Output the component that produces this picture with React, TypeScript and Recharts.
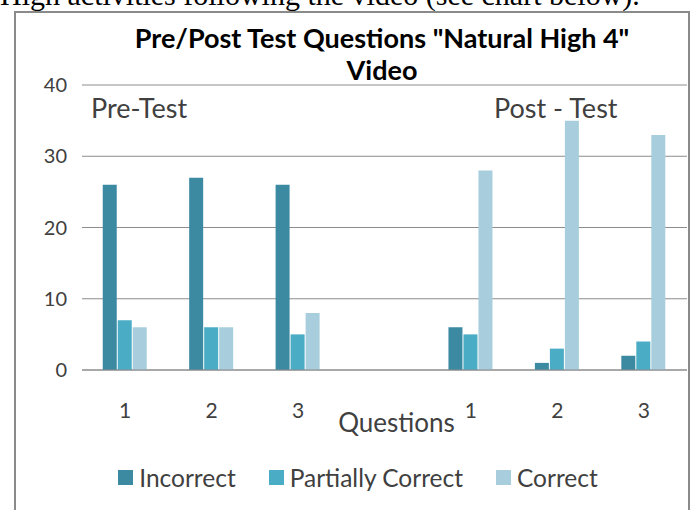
import React from "react";
import { BarChart, Bar, XAxis, YAxis, CartesianGrid, Legend } from "recharts";

const slots = ["pre1", "pre2", "pre3", "gap", "post1", "post2", "post3"];
const tickLabels = ["1", "2", "3", "", "1", "2", "3"];
const incorrect = [26, 27, 26, null, 6, 1, 2];
const partiallyCorrect = [7, 6, 5, null, 5, 3, 4];
const correct = [6, 6, 8, null, 28, 35, 33];
const yTicks = [0, 10, 20, 30, 40];

const data = slots.map((s, i) => ({
  slot: s,
  label: tickLabels[i],
  incorrect: incorrect[i],
  partial: partiallyCorrect[i],
  correct: correct[i],
}));

const DARK = "#3B8AA2";
const MID = "#4BACC6";
const LIGHT = "#A8CEDD";
const TEXT = "#404040";
const GRID = "#8C8C8C";
const FONT = "Lato, 'Open Sans', sans-serif";

const series = [
  { key: "incorrect", name: "Incorrect", color: DARK },
  { key: "partial", name: "Partially Correct", color: MID },
  { key: "correct", name: "Correct", color: LIGHT },
];

function LegendBox() {
  return (
    <div style={{ display: "flex", justifyContent: "center", paddingTop: 13, fontFamily: FONT, fontSize: 24.5, color: TEXT, marginLeft: 50 }}>
      {series.map((s) => (
        <div key={s.key} style={{ display: "flex", alignItems: "center", marginRight: 33 }}>
          <span style={{ width: 15, height: 15, background: s.color, marginRight: 6, display: "inline-block" }} />
          <span>{s.name}</span>
        </div>
      ))}
    </div>
  );
}

export default function App() {
  return (
    <div style={{ position: "absolute", left: 0, top: 0, width: 692, height: 510, overflow: "hidden", background: "#fff" }}>
      <div style={{ position: "absolute", left: 0, top: -20, fontFamily: "'Liberation Serif', serif", fontSize: 30, lineHeight: "30px", whiteSpace: "nowrap", color: "#000" }}>
        High activities following the video (see chart below).
      </div>
      <div style={{ position: "absolute", left: 14, top: 11, width: 672, height: 520, border: "2px solid #8A8A8A" }} />
      <div style={{ position: "absolute", left: 0, top: 22, width: 764, textAlign: "center", fontFamily: FONT, fontWeight: 700, fontSize: 27, lineHeight: "32px", color: "#000" }}>
        Pre/Post Test Questions "Natural High 4"<br />Video
      </div>
      <div style={{ position: "absolute", left: 91, top: 91, fontFamily: FONT, fontSize: 27, color: TEXT }}>Pre-Test</div>
      <div style={{ position: "absolute", left: 494, top: 91, fontFamily: FONT, fontSize: 27, color: TEXT }}>Post - Test</div>
      <BarChart
        width={692}
        height={510}
        data={data}
        margin={{ top: 85, right: 5, left: 12, bottom: 0 }}
        barCategoryGap="24%"
        barGap={1}
        style={{ position: "absolute", left: 0, top: 0 }}
      >
        <CartesianGrid vertical={false} stroke={GRID} />
        <XAxis
          dataKey="slot"
          tickFormatter={(v, i) => tickLabels[i]}
          height={80}
          tickSize={0}
          tickMargin={33}
          axisLine={{ stroke: GRID }}
          tick={{ fontSize: 21, fill: TEXT, fontFamily: FONT }}
          interval={0}
          label={{ value: "Questions", position: "insideTop", offset: 44, dx: 12, fontSize: 26, fill: TEXT, fontFamily: FONT }}
        />
        <YAxis
          width={70}
          domain={[0, 40]}
          ticks={yTicks}
          tickSize={0}
          tickMargin={15}
          axisLine={false}
          tick={{ fontSize: 20, fill: TEXT, fontFamily: FONT }}
        />
        <Legend verticalAlign="bottom" height={60} content={() => <LegendBox />} />
        {series.map((s) => (
          <Bar key={s.key} dataKey={s.key} name={s.name} fill={s.color} isAnimationActive={false} />
        ))}
      </BarChart>
    </div>
  );
}
